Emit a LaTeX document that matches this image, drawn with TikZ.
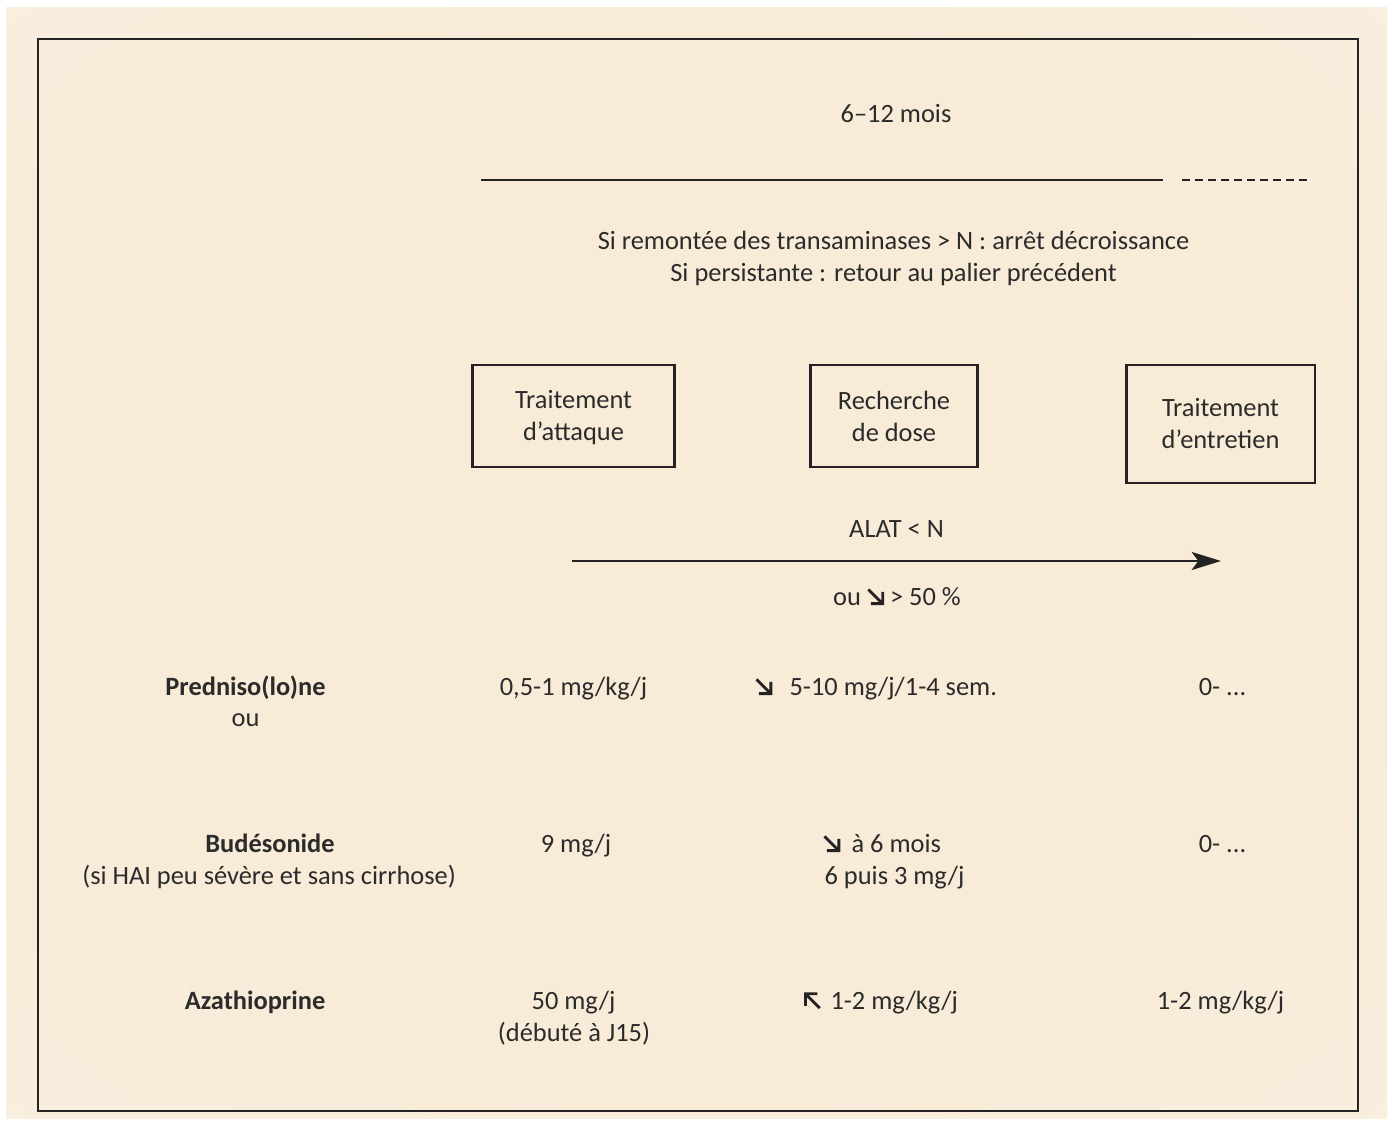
\documentclass[tikz,border=0pt]{standalone}
\usepackage{fontspec}
\setmainfont{Carlito}
\usetikzlibrary{arrows.meta}

\definecolor{ink}{HTML}{2B2B2B}
\definecolor{rule}{HTML}{242222}
\definecolor{bgin}{HTML}{F8EBD8}
\definecolor{bgout}{HTML}{FCFAF3}

% soft beige glow of the paper
\pgfdeclareradialshading{paperglow}{\pgfpoint{0bp}{0bp}}%
  {color(0bp)=(bgin); color(24bp)=(bgin); color(70bp)=(bgout)}

% small diagonal arrows used inside the dosage texts
\newcommand\dosedown{\tikz[baseline=0pt,x=0.75pt,y=0.75pt]{%
  \draw[rule,line width=2.1pt,line cap=butt,miter limit=4]
    (0.8,15.6) -- (14.8,1.6) (3.2,1.4) -- (15.2,1.4) -- (15.2,13.2);}}
\newcommand\doseup{\tikz[baseline=0pt,x=0.75pt,y=0.75pt]{%
  \draw[rule,line width=2.1pt,line cap=butt,miter limit=4]
    (15.6,0.8) -- (1.6,14.8) (1.4,3.2) -- (1.4,15.2) -- (13.2,15.2);}}

\tikzset{
  lbl/.style={font=\fontsize{19.8}{24}\selectfont, text=ink, inner sep=0pt, anchor=base},
  drug/.style={lbl, font=\fontsize{19.8}{24}\selectfont\bfseries},
  stagebox/.style={draw=rule, line width=2pt, inner sep=0pt},
  stagetext/.style={font=\fontsize{19.8}{24}\selectfont, text=ink, align=center, inner sep=0pt},
  timeline/.style={draw=rule, line width=2.2pt},
}

\begin{document}
\begin{tikzpicture}[x=0.75pt,y=-0.75pt]
  % page and background
  \useasboundingbox (0,0) rectangle (1394,1128);
  \fill[white] (0,0) rectangle (1394,1128);
  \shade[shading=paperglow] (6,7) rectangle (1387,1118);
  \draw[rule,line width=2.1pt] (38,39) rectangle (1358,1111);

  % duration of treatment
  \node[lbl] (duree) at (896,122) {6–12 mois};
  \coordinate (tA) at (481,180);
  \coordinate (tB) at (1163,180);
  \coordinate (tC) at (1182,180);
  \coordinate (tD) at (1307,180);
  \draw[timeline] (tA) -- (tB);
  \draw[timeline, dash pattern=on 6pt off 3.75pt] (tC) -- (tD);

  \node[lbl] (regle1) at (893.5,249) {Si remontée des transaminases > N : arrêt décroissance};
  \node[lbl] (regle2) at (893.5,281) {Si persistante : retour au palier précédent};

  % the three phases
  \node[stagebox, minimum width=151.5pt, minimum height=76.5pt] (attaque) at (573.5,416) {};
  \node[stagetext, yshift=-1.5pt] (attaqueT) at (attaque) {Traitement\\d’attaque};
  \node[stagebox, minimum width=125pt, minimum height=76.5pt] (dose) at (894,416) {};
  \node[stagetext] (doseT) at (dose) {Recherche\\de dose};
  \node[stagebox, minimum width=141.5pt, minimum height=88.5pt] (entretien) at (1220.5,424) {};
  \node[stagetext] (entretienT) at (entretien) {Traitement\\d’entretien};

  % transition criterion
  \coordinate (flA) at (572,561);
  \coordinate (flB) at (1221,561);
  \draw[draw=rule, line width=1.9pt, -{Stealth[length=22pt,width=13.5pt,inset=5pt]}] (flA) -- (flB);
  \node[lbl] (alat) at (896.5,537) {ALAT < N};
  \node[lbl] (baisse) at (897,605) {ou \dosedown{} > 50 \%};

  % prednisone / prednisolone
  \node[drug] (pred) at (245.5,695) {Predniso(lo)ne};
  \node[lbl] (ou) at (245.5,726) {ou};
  \node[lbl] (pred1) at (573.5,695) {0,5-1 mg/kg/j};
  \node[lbl] (pred2) at (876,695) {\dosedown\hspace{13pt}5-10 mg/j/1-4 sem.};
  \node[lbl] (pred3) at (1222.5,695) {0- ...};

  % budesonide
  \node[drug] (bud) at (270,852) {Budésonide};
  \node[lbl] (budcond) at (269,884) {(si HAI peu sévère et sans cirrhose)};
  \node[lbl] (bud1) at (576,852) {9 mg/j};
  \node[lbl] (bud2) at (882,852) {\dosedown\hspace{8.5pt}à 6 mois};
  \node[lbl] (bud2b) at (894.5,884) {6 puis 3 mg/j};
  \node[lbl] (bud3) at (1222.5,852) {0- ...};

  % azathioprine
  \node[drug] (aza) at (255,1009) {Azathioprine};
  \node[lbl] (aza1) at (573.5,1009) {50 mg/j};
  \node[lbl] (aza1b) at (574,1041) {(débuté à J15)};
  \node[lbl] (aza2) at (881,1009) {\doseup\hspace{7pt}1-2 mg/kg/j};
  \node[lbl] (aza3) at (1220.5,1009) {1-2 mg/kg/j};
\end{tikzpicture}
\end{document}
